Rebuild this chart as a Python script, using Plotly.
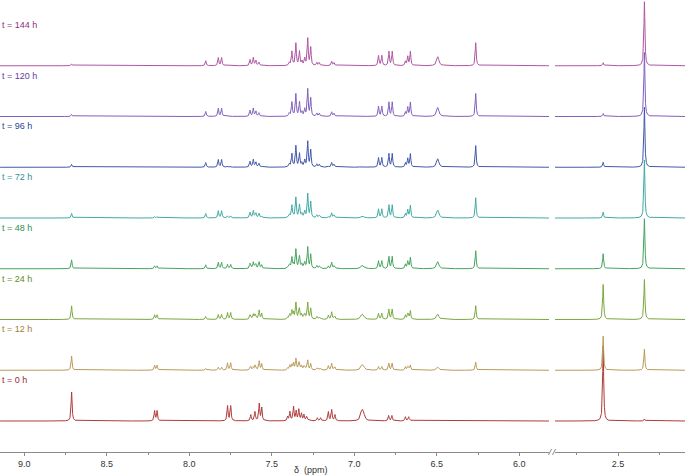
import numpy as np
import plotly.graph_objects as go

# ---------------- data ----------------
times = ["0", "12", "24", "48", "72", "96", "120", "144"]

# aromatic signals of the species present at t = 0 h (ppm, peak height)
A_ppm = [8.713, 8.210, 8.195, 7.768, 7.749, 7.627, 7.602, 7.576, 7.561,
         7.404, 7.390, 7.368, 7.352, 7.336, 7.320, 7.305, 7.289, 7.224,
         7.204, 7.157, 7.137, 7.117, 6.955, 6.945, 6.792, 6.772, 6.690,
         6.670]
A_height = [29, 10, 10, 15, 15, 6, 9, 17, 13,
             4, 9, 14, 9, 11, 7, 6, 4, 3,
             3, 9, 11, 6, 8, 8, 5, 5, 4,
             4]

# aromatic signals of the species present at t = 144 h
B_ppm = [8.713, 7.900, 7.824, 7.804, 7.632, 7.612, 7.596, 7.578, 7.394,
         7.378, 7.354, 7.332, 7.317, 7.300, 7.282, 7.264, 7.227, 7.212,
         7.137, 7.123, 6.853, 6.833, 6.790, 6.770, 6.690, 6.676, 6.660,
         6.494, 6.264]
B_height = [1, 5, 8, 8, 6, 8, 5, 3, 3,
            14, 22, 14, 4, 7, 27, 18, 3, 3,
            4, 3, 10, 10, 14, 14, 4, 9, 14,
            9, 23]

# relative amount of each species in each spectrum (t = 0 ... 144 h)
wA = [1.0, 0.48, 0.45, 0.28, 0.13, 0.07, 0.04, 0.03]
wB = [0.03, 0.35, 0.60, 0.78, 0.88, 0.94, 1.0, 1.0]

# aliphatic singlets, heights per spectrum (t = 0 ... 144 h)
S1_ppm, S1_height = 2.590, [75, 34, 35, 15, 6, 5, 3, 3]
S2_ppm, S2_height = 2.340, [2, 21, 40, 50, 58, 60, 64, 64]

line_colors = ["#b03a3a", "#b89a58", "#7aa83e", "#45a35e", "#40aaa4",
               "#4058aa", "#8060bc", "#b055a2"]
label_colors = ["#9c2a2a", "#a08032", "#5e8e24", "#2f9048", "#2a9490",
                "#2c4496", "#5e3e9e", "#8e3080"]

# ---------------- geometry ----------------
W, H = 685, 475
PLOT_H = 452
L_RANGE = [9.147, 5.820]
R_RANGE = [2.882, 2.094]
L_DOM = [0.0, 549 / W]
R_DOM = [555 / W, 1.0]
base0, step = 31.0, 50.75
NARROW, BROAD = 0.0035, 0.008


def lorentz(grid, p, h, g):
    return h / (1.0 + ((grid - p) / g) ** 2)


def spectrum(grid, k):
    y = np.zeros_like(grid)
    for ppm_list, h_list, w in ((A_ppm, A_height, wA[k]), (B_ppm, B_height, wB[k])):
        for p, h in zip(ppm_list, h_list):
            g = BROAD if abs(p - 6.494) < 1e-6 or abs(p - 6.95) < 0.01 else NARROW
            y += lorentz(grid, p, w * h, g)
    y += lorentz(grid, S1_ppm, S1_height[k], NARROW)
    y += lorentz(grid, S2_ppm, S2_height[k], NARROW)
    return y


gridL = np.arange(L_RANGE[1], L_RANGE[0], 0.0005)
gridR = np.arange(R_RANGE[1], R_RANGE[0], 0.0005)

fig = go.Figure()
for k, t in enumerate(times):
    off = base0 + k * step
    fig.add_trace(go.Scatter(x=gridL, y=spectrum(gridL, k) + off, mode="lines",
                             line=dict(color=line_colors[k], width=1),
                             xaxis="x", yaxis="y", hoverinfo="skip",
                             showlegend=False))
    fig.add_trace(go.Scatter(x=gridR, y=spectrum(gridR, k) + off, mode="lines",
                             line=dict(color=line_colors[k], width=1),
                             xaxis="x2", yaxis="y", hoverinfo="skip",
                             showlegend=False))
    fig.add_annotation(text="t = %s h" % t, xref="paper", yref="y",
                       x=0.0, y=off + 41, xanchor="left", yanchor="middle",
                       showarrow=False,
                       font=dict(family="Liberation Sans, Arial", size=9,
                                 color=label_colors[k]))

axis_common = dict(showgrid=False, zeroline=False, showline=True,
                   linecolor="#8a8a8a", linewidth=1, ticks="outside",
                   ticklen=3, tickcolor="#8a8a8a", tickformat=".1f",
                   dtick=0.5, tick0=0,
                   tickfont=dict(family="Liberation Sans, Arial", size=9,
                                 color="#333333"),
                   minor=dict(dtick=0.25, tick0=0, ticks="outside",
                              ticklen=2, tickcolor="#8a8a8a"))

fig.update_layout(
    width=W, height=H,
    margin=dict(l=0, r=0, t=0, b=H - PLOT_H),
    paper_bgcolor="white", plot_bgcolor="white",
    hovermode=False,
    xaxis=dict(domain=L_DOM, range=L_RANGE, anchor="y", **axis_common),
    xaxis2=dict(domain=R_DOM, range=R_RANGE, anchor="y", **axis_common),
    yaxis=dict(range=[0, PLOT_H], visible=False, fixedrange=True),
)

fig.add_annotation(text="δ  (ppm)", xref="paper", yref="paper",
                   x=311 / W, y=(PLOT_H - 470) / PLOT_H,
                   xanchor="center", yanchor="middle", showarrow=False,
                   font=dict(family="Liberation Sans, Arial", size=9,
                             color="#333333"))

# axis-break marks
for x0 in (548.5, 552.5):
    fig.add_shape(type="line", xref="paper", yref="paper",
                  x0=x0 / W, x1=(x0 + 3) / W,
                  y0=(PLOT_H - 455) / PLOT_H, y1=(PLOT_H - 449) / PLOT_H,
                  line=dict(color="#8a8a8a", width=1))

fig.write_html("out.html",
               config={"displayModeBar": False},
               post_script="document.body.style.margin='0';"
                           "document.body.style.overflow='hidden';")
